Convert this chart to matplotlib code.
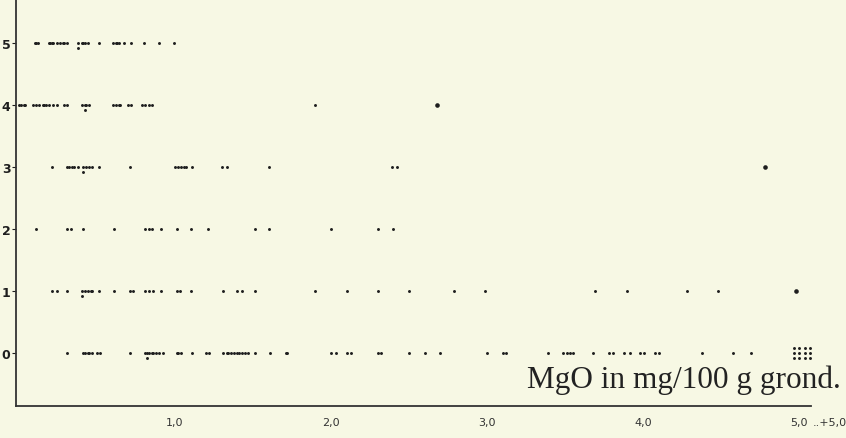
import matplotlib
matplotlib.use("Agg")
import matplotlib.pyplot as plt
from collections import Counter

# MgO (mg/100 g) per class 0..5
mgo_5 = [0.10, 0.11, 0.12, 0.19, 0.20, 0.21, 0.22, 0.24, 0.26, 0.28, 0.29, 0.31,
         0.38, 0.38, 0.40, 0.41, 0.42, 0.44, 0.51, 0.60, 0.62, 0.63, 0.64, 0.67,
         0.72, 0.80, 0.90, 0.99]
mgo_4 = [0.00, 0.01, 0.03, 0.04, 0.09, 0.11, 0.13, 0.15, 0.16, 0.17, 0.19, 0.22,
         0.24, 0.29, 0.31, 0.40, 0.42, 0.42, 0.43, 0.45, 0.60, 0.62, 0.64, 0.65,
         0.70, 0.72, 0.79, 0.81, 0.83, 0.85, 1.90]
mgo_3 = [0.21, 0.31, 0.32, 0.34, 0.35, 0.38, 0.41, 0.41, 0.43, 0.45, 0.47, 0.51,
         0.71, 1.00, 1.02, 1.04, 1.06, 1.07, 1.11, 1.30, 1.33, 1.60, 2.39, 2.42]
mgo_2 = [0.11, 0.31, 0.33, 0.41, 0.61, 0.81, 0.83, 0.85, 0.91, 1.01, 1.10, 1.21,
         1.51, 1.60, 2.00, 2.30, 2.40]
mgo_1 = [0.21, 0.24, 0.31, 0.40, 0.40, 0.42, 0.44, 0.46, 0.47, 0.51, 0.61, 0.71,
         0.73, 0.81, 0.83, 0.86, 0.91, 1.01, 1.03, 1.10, 1.31, 1.40, 1.43, 1.51,
         1.90, 2.10, 2.30, 2.50, 2.79, 2.99, 3.69, 3.90, 4.28, 4.48]
mgo_0 = [0.31, 0.41, 0.42, 0.44, 0.45, 0.47, 0.50, 0.52, 0.71, 0.81, 0.82, 0.82,
         0.83, 0.85, 0.86, 0.88, 0.90, 0.92, 1.01, 1.02, 1.04, 1.11, 1.20, 1.22,
         1.31, 1.33, 1.34, 1.36, 1.38, 1.40, 1.41, 1.43, 1.45, 1.47, 1.51, 1.61,
         1.71, 1.72, 2.00, 2.03, 2.10, 2.13, 2.30, 2.32, 2.50, 2.60, 2.70, 3.00,
         3.10, 3.12, 3.39, 3.49, 3.51, 3.53, 3.55, 3.68, 3.78, 3.81, 3.88, 3.92,
         3.98, 4.01, 4.08, 4.10, 4.38, 4.58, 4.69,
         4.97, 4.97, 4.97, 5.00, 5.00, 5.00, 5.04, 5.04, 5.04, 5.07, 5.07, 5.07]
classes = [0, 1, 2, 3, 4, 5]
series = [mgo_0, mgo_1, mgo_2, mgo_3, mgo_4, mgo_5]

# heavier dots
big_class = [4, 3, 1]
big_mgo = [2.68, 4.78, 4.98]

x_ticks = [1.0, 2.0, 3.0, 4.0, 5.0, 5.2]
x_labels = ["1,0", "2,0", "3,0", "4,0", "5,0", "..+5,0"]

bg = "#F7F8E4"
ink = "#1e1e1e"

fig = plt.figure(figsize=(8.46, 4.39), dpi=100, facecolor=bg)
ax = fig.add_axes([16 / 846, 32 / 439, 825 / 846, 407 / 439], facecolor=bg)

# equal values are stacked on top of each other
stack = [0, -0.075, 0.075, -0.15]
for c, vals in zip(classes, series):
    seen = Counter()
    xs, ys = [], []
    for v in vals:
        xs.append(v)
        ys.append(c + stack[seen[v] % len(stack)])
        seen[v] += 1
    ax.scatter(xs, ys, s=4.5, color=ink, linewidths=0)

ax.scatter(big_mgo, big_class, s=11, color=ink, linewidths=0)

ax.set_xlim(-0.02, 5.27)
ax.set_ylim(-0.855, 5.71)

for s in ["top", "right"]:
    ax.spines[s].set_visible(False)
ax.spines["bottom"].set_bounds(-0.02, 5.08)
ax.spines["bottom"].set_linewidth(1.3)
ax.spines["left"].set_linewidth(1.3)
ax.spines["bottom"].set_color("#333333")
ax.spines["left"].set_color("#333333")

ax.set_yticks(classes)
ax.set_yticklabels([str(c) for c in classes], fontweight="bold", fontsize=9)
ax.tick_params(axis="y", length=3, width=0.8, pad=1, colors=ink)
ax.set_xticks(x_ticks)
ax.set_xticklabels(x_labels, fontsize=8)
ax.tick_params(axis="x", length=0, pad=8, colors="#333333")

ax.text(0.9995, 0.047, "MgO in mg/100 g grond.", transform=ax.transAxes,
        ha="right", va="baseline", fontsize=22.5, family="Liberation Serif",
        color="#222222")

fig.savefig("out.png", dpi=100, facecolor=bg)
